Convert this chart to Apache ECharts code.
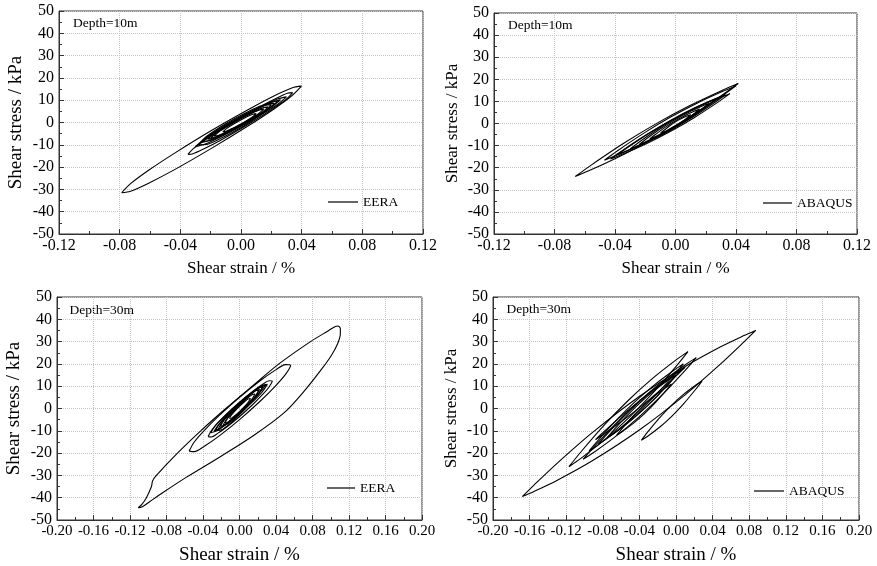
<!DOCTYPE html>
<html>
<head>
<meta charset="utf-8">
<script src="https://cdn.jsdelivr.net/npm/echarts@6/dist/echarts.min.js"></script>
<style>
html,body{margin:0;padding:0;background:#fff;}
#chart{width:877px;height:566px;}
</style>
</head>
<body>
<div id="chart"></div>
<script>
// Tick labels
const strainTicksTop = [-0.12, -0.08, -0.04, 0.00, 0.04, 0.08, 0.12];
const strainTicksBottom = [-0.20, -0.16, -0.12, -0.08, -0.04, 0.00, 0.04, 0.08, 0.12, 0.16, 0.20];
const stressTicks = [-50, -40, -30, -20, -10, 0, 10, 20, 30, 40, 50];

const panelLabels = ['Depth=10m', 'Depth=10m', 'Depth=30m', 'Depth=30m'];
const seriesNames = ['EERA', 'ABAQUS', 'EERA', 'ABAQUS'];

// Shear strain (%) , shear stress (kPa) loops
const eera10Loops = [
  [[-0.012,-4.2],[-0.0098,-2.84],[-0.0054,-0.91],[-0.001,0.8],[0.0034,2.37],[0.0078,3.72],[0.010,4.0],[0.0078,2.64],[0.0034,0.71],[-0.001,-1.0],[-0.0054,-2.57],[-0.0098,-3.92],[-0.012,-4.2]],
  [[-0.018,-6.2],[-0.0147,-4.26],[-0.0081,-1.44],[-0.0015,1.1],[0.0051,3.44],[0.0117,5.5],[0.015,6.0],[0.0117,4.06],[0.0051,1.24],[-0.0015,-1.3],[-0.0081,-3.64],[-0.0147,-5.7],[-0.018,-6.2]],
  [[-0.022,-7.5],[-0.018,-5.15],[-0.010,-1.77],[-0.002,1.25],[0.006,4.03],[0.014,6.45],[0.018,7.0],[0.014,4.65],[0.006,1.27],[-0.002,-1.75],[-0.010,-4.53],[-0.018,-6.95],[-0.022,-7.5]],
  [[-0.020,-7],[-0.0156,-4.27],[-0.0068,-0.4],[0.002,3.05],[0.0108,6.2],[0.0196,8.93],[0.024,9.5],[0.0196,6.77],[0.0108,2.9],[0.002,-0.55],[-0.0068,-3.7],[-0.0156,-6.43],[-0.020,-7]],
  [[-0.025,-8.5],[-0.0203,-5.5],[-0.0109,-1.35],[-0.0015,2.25],[0.0079,5.5],[0.0173,8.2],[0.022,8.6],[0.0173,5.6],[0.0079,1.45],[-0.0015,-2.15],[-0.0109,-5.4],[-0.0203,-8.1],[-0.025,-8.5]],
  [[-0.028,-10],[-0.0232,-6.52],[-0.0136,-2.03],[-0.004,1.8],[0.0056,5.17],[0.0152,7.88],[0.020,8],[0.0152,4.52],[0.0056,0.03],[-0.004,-3.8],[-0.0136,-7.17],[-0.0232,-9.88],[-0.028,-10]],
  [[-0.027,-9.2],[-0.0217,-6.3],[-0.0111,-1.91],[-0.0005,2.1],[0.0101,5.85],[0.0207,9.22],[0.026,10.2],[0.0207,7.3],[0.0101,2.91],[-0.0005,-1.1],[-0.0111,-4.85],[-0.0217,-8.22],[-0.027,-9.2]],
  [[-0.030,-10.8],[-0.024,-7.4],[-0.012,-2.3],[0,2.35],[0.012,6.6],[0.024,10.5],[0.030,11.5],[0.024,8.1],[0.012,3.0],[0,-1.65],[-0.012,-5.9],[-0.024,-9.8],[-0.030,-10.8]],
  [[-0.035,-14.3],[-0.0316,-11.8],[-0.0247,-8.3],[-0.0143,-3.7],[-0.0005,2.05],[0.0133,7.4],[0.0237,11.0],[0.0306,13.1],[0.034,13.4],[0.0306,10.9],[0.0237,7.4],[0.0133,2.8],[-0.0005,-2.95],[-0.0143,-8.3],[-0.0247,-11.9],[-0.0316,-14.0],[-0.035,-14.3]],
  [[-0.0787,-31.5],[-0.0728,-27.4],[-0.0609,-21.4],[-0.0432,-13.5],[-0.0195,-3.6],[0.0043,5.6],[0.022,12.0],[0.0339,15.6],[0.0398,16.3],[0.0339,12.2],[0.022,6.2],[0.0043,-1.7],[-0.0195,-11.6],[-0.0432,-20.9],[-0.0609,-27.2],[-0.0728,-30.8],[-0.0787,-31.5]]
];

const abaqus10Loops = [
  [[-0.0663,-24.0],[-0.0555,-18.71],[-0.034,-8.85],[-0.0124,0.05],[0.0092,7.99],[0.0307,14.97],[0.0415,18.1],[0.0307,12.81],[0.0092,2.95],[-0.0124,-5.95],[-0.034,-13.89],[-0.0555,-20.87],[-0.0663,-24.0]],
  [[-0.047,-16.6],[-0.0383,-12.3],[-0.0209,-4.34],[-0.0035,2.8],[0.0139,9.1],[0.0313,14.58],[0.040,17.0],[0.0313,12.7],[0.0139,4.74],[-0.0035,-2.4],[-0.0209,-8.7],[-0.0383,-14.18],[-0.047,-16.6]],
  [[-0.043,-16.0],[-0.0351,-12.19],[-0.0193,-5.13],[-0.0035,1.15],[0.0123,6.67],[0.0281,11.41],[0.036,13.5],[0.0281,9.69],[0.0123,2.63],[-0.0035,-3.65],[-0.0193,-9.17],[-0.0351,-13.91],[-0.043,-16.0]],
  [[-0.038,-14.0],[-0.0309,-10.51],[-0.0167,-4.05],[-0.0025,1.7],[0.0117,6.75],[0.0259,11.09],[0.033,13.0],[0.0259,9.51],[0.0117,3.05],[-0.0025,-2.7],[-0.0167,-7.75],[-0.0309,-12.09],[-0.038,-14.0]],
  [[-0.030,-11.5],[-0.0242,-8.48],[-0.0126,-2.92],[-0.001,2.0],[0.0106,6.28],[0.0222,9.92],[0.028,11.5],[0.0222,8.48],[0.0106,2.92],[-0.001,-2.0],[-0.0126,-6.28],[-0.0242,-9.92],[-0.030,-11.5]],
  [[-0.024,-9.5],[-0.0194,-7.04],[-0.0102,-2.52],[-0.001,1.45],[0.0082,4.88],[0.0174,7.76],[0.022,9.0],[0.0174,6.54],[0.0082,2.02],[-0.001,-1.95],[-0.0102,-5.38],[-0.0194,-8.26],[-0.024,-9.5]],
  [[-0.017,-7.0],[-0.0137,-5.18],[-0.0071,-1.86],[-0.0005,1.05],[0.0061,3.54],[0.0127,5.62],[0.016,6.5],[0.0127,4.68],[0.0061,1.36],[-0.0005,-1.55],[-0.0071,-4.04],[-0.0137,-6.12],[-0.017,-7.0]],
  [[-0.010,-4.5],[-0.008,-3.29],[-0.004,-1.11],[0,0.75],[0.004,2.29],[0.008,3.51],[0.010,4.0],[0.008,2.79],[0.004,0.61],[0,-1.25],[-0.004,-2.79],[-0.008,-4.01],[-0.010,-4.5]]
];

const eera30Loops = [
  [[-0.011,-4.5],[-0.0087,-2.88],[-0.0041,-0.7],[0.0005,1.2],[0.0051,2.9],[0.0097,4.32],[0.012,4.5],[0.0097,2.88],[0.0051,0.7],[0.0005,-1.2],[-0.0041,-2.9],[-0.0087,-4.32],[-0.011,-4.5]],
  [[-0.016,-6.5],[-0.0127,-4.24],[-0.0061,-1.13],[0.0005,1.6],[0.0071,4.07],[0.0137,6.16],[0.017,6.5],[0.0137,4.24],[0.0071,1.13],[0.0005,-1.6],[-0.0061,-4.07],[-0.0127,-6.16],[-0.016,-6.5]],
  [[-0.018,-7.5],[-0.0137,-4.48],[-0.0051,-0.38],[0.0035,3.2],[0.0121,6.42],[0.0207,9.12],[0.025,9.5],[0.0207,6.48],[0.0121,2.38],[0.0035,-1.2],[-0.0051,-4.42],[-0.0137,-7.12],[-0.018,-7.5]],
  [[-0.021,-8],[-0.0167,-5.15],[-0.0081,-1.22],[0.0005,2.25],[0.0091,5.38],[0.0177,8.05],[0.022,8.5],[0.0177,5.65],[0.0091,1.72],[0.0005,-1.75],[-0.0081,-4.88],[-0.0167,-7.55],[-0.021,-8]],
  [[-0.024,-9.8],[-0.0195,-6.44],[-0.0105,-2.02],[-0.0015,1.8],[0.0075,5.18],[0.0165,7.96],[0.021,8.2],[0.0165,4.84],[0.0075,0.42],[-0.0015,-3.4],[-0.0105,-6.78],[-0.0195,-9.56],[-0.024,-9.8]],
  [[-0.026,-9.5],[-0.0208,-6.23],[-0.0104,-1.63],[0,2.45],[0.0104,6.17],[0.0208,9.37],[0.026,10],[0.0208,6.73],[0.0104,2.13],[0,-1.95],[-0.0104,-5.67],[-0.0208,-8.87],[-0.026,-9.5]],
  [[-0.028,-10.2],[-0.0223,-7.02],[-0.0109,-2.25],[0.0005,2.1],[0.0119,6.15],[0.0233,9.78],[0.029,10.8],[0.0233,7.62],[0.0119,2.85],[0.0005,-1.5],[-0.0109,-5.55],[-0.0223,-9.18],[-0.028,-10.2]],
  [[-0.0316,-10.8],[-0.0254,-7.14],[-0.013,-2.03],[-0.0006,2.5],[0.0119,6.61],[0.0243,10.14],[0.0305,10.8],[0.0243,7.14],[0.0119,2.03],[-0.0006,-2.5],[-0.013,-6.61],[-0.0254,-10.14],[-0.0316,-10.8]],
  [[-0.0344,-12.6],[-0.0309,-9.96],[-0.0239,-6.59],[-0.0133,-2.2],[0.0008,3.05],[0.0148,7.76],[0.0254,10.85],[0.0324,12.46],[0.0359,12.3],[0.0324,9.66],[0.0254,6.29],[0.0148,1.9],[0.0008,-3.35],[-0.0133,-8.06],[-0.0239,-11.15],[-0.0309,-12.76],[-0.0344,-12.6]],
  [[-0.0552,-19.1],[-0.0496,-15.0],[-0.0385,-9.76],[-0.0218,-2.96],[0.0004,5.15],[0.0226,12.44],[0.0393,17.2],[0.0504,19.66],[0.056,19.4],[0.0504,15.3],[0.0393,10.06],[0.0226,3.26],[0.0004,-4.85],[-0.0218,-12.14],[-0.0385,-16.9],[-0.0496,-19.36],[-0.0552,-19.1]],
  [[-0.111,-44.5],[-0.107,-43.0],[-0.102,-40],[-0.0965,-35],[-0.0953,-32.5],[-0.0918,-30.3],[-0.068,-20],[-0.0425,-10],[-0.015,0],[0.014,10],[0.0432,20],[0.0778,30],[0.0979,35],[0.105,36.8],[0.108,37],[0.1105,35.8],[0.1105,33.5],[0.1075,29],[0.101,24],[0.0906,18],[0.0713,8],[0.0487,-2],[0.0159,-12],[-0.0206,-21.5],[-0.0589,-31],[-0.085,-38],[-0.0985,-41.8],[-0.107,-44.2],[-0.111,-44.5]]
];

const abaqus30Loops = [
  [[-0.168,-39.5],[-0.1552,-34.35],[-0.1297,-24.5],[-0.0915,-10.85],[-0.0405,5.25],[0.0106,18.95],[0.0488,27.66],[0.0743,32.71],[0.0871,35.0],[0.0743,29.85],[0.0488,20.0],[0.0106,6.35],[-0.0405,-9.75],[-0.0915,-23.45],[-0.1297,-32.16],[-0.1552,-37.21],[-0.168,-39.5]],
  [[-0.117,-26.1],[-0.104,-19.5],[-0.078,-7.26],[-0.052,3.7],[-0.0259,13.38],[0.0001,21.78],[0.0131,25.5],[0.0001,18.9],[-0.0259,6.66],[-0.052,-4.3],[-0.078,-13.98],[-0.104,-22.38],[-0.117,-26.1]],
  [[-0.1016,-22.8],[-0.0892,-16.98],[-0.0645,-6.18],[-0.0397,3.5],[-0.0149,12.06],[0.0098,19.5],[0.0222,22.8],[0.0098,16.98],[-0.0149,6.18],[-0.0397,-3.5],[-0.0645,-12.06],[-0.0892,-19.5],[-0.1016,-22.8]],
  [[-0.095,-19],[-0.0847,-14.02],[-0.0641,-4.78],[-0.0435,3.5],[-0.0229,10.82],[-0.0023,17.18],[0.008,20],[-0.0023,15.02],[-0.0229,5.78],[-0.0435,-2.5],[-0.0641,-9.82],[-0.0847,-16.18],[-0.095,-19]],
  [[-0.085,-16],[-0.076,-11.8],[-0.058,-4.0],[-0.04,3.0],[-0.022,9.2],[-0.004,14.6],[0.005,17],[-0.004,12.8],[-0.022,5.0],[-0.04,-2.0],[-0.058,-8.2],[-0.076,-13.6],[-0.085,-16]],
  [[-0.088,-14],[-0.0782,-10.21],[-0.0586,-2.99],[-0.039,3.75],[-0.0194,10.01],[0.0002,15.79],[0.010,18.5],[0.0002,14.71],[-0.0194,7.49],[-0.039,0.75],[-0.0586,-5.51],[-0.0782,-11.29],[-0.088,-14]],
  [[-0.075,-13],[-0.0675,-9.41],[-0.0525,-2.75],[-0.0375,3.2],[-0.0225,8.45],[-0.0075,12.99],[0.0,15],[-0.0075,11.41],[-0.0225,4.75],[-0.0375,-1.2],[-0.0525,-6.45],[-0.0675,-10.99],[-0.075,-13]],
  [[-0.065,-12],[-0.059,-8.98],[-0.047,-3.42],[-0.035,1.5],[-0.023,5.78],[-0.011,9.42],[-0.005,11],[-0.011,7.98],[-0.023,2.42],[-0.035,-2.5],[-0.047,-6.78],[-0.059,-10.42],[-0.065,-12]],
  [[-0.0379,-14.3],[-0.0313,-10.74],[-0.018,-4.22],[-0.0047,1.5],[0.0085,6.42],[0.0218,10.54],[0.0284,12.3],[0.0218,8.74],[0.0085,2.22],[-0.0047,-3.5],[-0.018,-8.42],[-0.0313,-12.54],[-0.0379,-14.3]]
];

const FONT = '"Liberation Serif", "Times New Roman", serif';
const AX = '#333';

const grids = [
  {left: 59, top: 11, width: 364, height: 223},
  {left: 494, top: 13, width: 363, height: 221},
  {left: 57, top: 297, width: 365, height: 223},
  {left: 493, top: 297, width: 366, height: 223}
].map(g => Object.assign(g, {show: true, borderColor: AX, borderWidth: 1, backgroundColor: 'transparent', containLabel: false, outerBoundsMode: 'none'}));

const panelCfg = [
  {xt: strainTicksTop, xLabel: 16, xName: 17, yName: 19, xGap: 26},
  {xt: strainTicksTop, xLabel: 16, xName: 17, yName: 17, xGap: 26},
  {xt: strainTicksBottom, xLabel: 15, xName: 19, yName: 19, xGap: 26},
  {xt: strainTicksBottom, xLabel: 15, xName: 19, yName: 17, xGap: 26}
];

const xAxes = panelCfg.map((c, i) => ({
  gridIndex: i, type: 'value',
  min: c.xt[0], max: c.xt[c.xt.length - 1], interval: c.xt[1] - c.xt[0],
  name: 'Shear strain / %', nameLocation: 'middle', nameGap: c.xGap,
  nameTextStyle: {fontFamily: FONT, fontSize: c.xName, color: '#000'},
  axisLine: {show: true, onZero: false, lineStyle: {color: AX, width: 1}},
  axisTick: {show: true, inside: true, length: 5, lineStyle: {color: AX}},
  minorTick: {show: true, splitNumber: 2, length: 3, lineStyle: {color: AX}},
  axisLabel: {fontFamily: FONT, fontSize: c.xLabel, color: '#000', margin: 4,
    formatter: v => (Math.abs(v) < 1e-9 ? 0 : v).toFixed(2)},
  splitLine: {show: true, lineStyle: {color: '#c4c4c4', type: 'dotted', width: 1}}
}));

const yAxes = panelCfg.map((c, i) => ({
  gridIndex: i, type: 'value',
  min: stressTicks[0], max: stressTicks[stressTicks.length - 1], interval: stressTicks[1] - stressTicks[0],
  name: 'Shear stress / kPa', nameLocation: 'middle', nameGap: 33,
  nameTextStyle: {fontFamily: FONT, fontSize: c.yName, color: '#000'},
  axisLine: {show: true, onZero: false, lineStyle: {color: AX, width: 1}},
  axisTick: {show: true, inside: true, length: 5, lineStyle: {color: AX}},
  minorTick: {show: true, splitNumber: 2, length: 3, lineStyle: {color: AX}},
  axisLabel: {fontFamily: FONT, fontSize: 16, color: '#000', margin: 5},
  splitLine: {show: true, lineStyle: {color: '#c4c4c4', type: 'dotted', width: 1}}
}));

const allLoops = [eera10Loops, abaqus10Loops, eera30Loops, abaqus30Loops];
const series = [];
allLoops.forEach((loops, i) => {
  loops.forEach(loop => {
    series.push({
      type: 'line', name: seriesNames[i], xAxisIndex: i, yAxisIndex: i,
      data: loop, showSymbol: false, symbol: 'none', smooth: 0.3,
      lineStyle: {color: '#000', width: 1.1}, itemStyle: {color: '#000'},
      animation: false, silent: true
    });
  });
});

// legend line centre y positions and start x
const legendPos = [
  {left: 328, y: 202, w: 30},
  {left: 763, y: 203, w: 29},
  {left: 327, y: 488, w: 28},
  {left: 754, y: 491, w: 30}
];
const legends = legendPos.map((p, i) => ({
  data: [{name: seriesNames[i], icon: 'rect'}], left: p.left, top: p.y - 8, itemWidth: p.w, itemHeight: 1.2,
  orient: 'horizontal', padding: 0, itemGap: 0, selectedMode: false,
  itemStyle: {color: '#000', borderWidth: 0},
  textStyle: {fontFamily: FONT, fontSize: 13.5, color: '#000', lineHeight: 16}
}));

const labelPos = [[73, 16.5], [508, 18], [69.5, 303], [506.5, 302.5]];
const graphics = labelPos.map((p, i) => ({
  type: 'text', left: p[0], top: p[1],
  style: {text: panelLabels[i], font: '13.5px ' + FONT, fill: '#000'}
}));

const chart = echarts.init(document.getElementById('chart'), null, {renderer: 'canvas'});
chart.setOption({
  backgroundColor: '#fff',
  animation: false,
  grid: grids,
  xAxis: xAxes,
  yAxis: yAxes,
  legend: legends,
  graphic: graphics,
  series: series
});
</script>
</body>
</html>
